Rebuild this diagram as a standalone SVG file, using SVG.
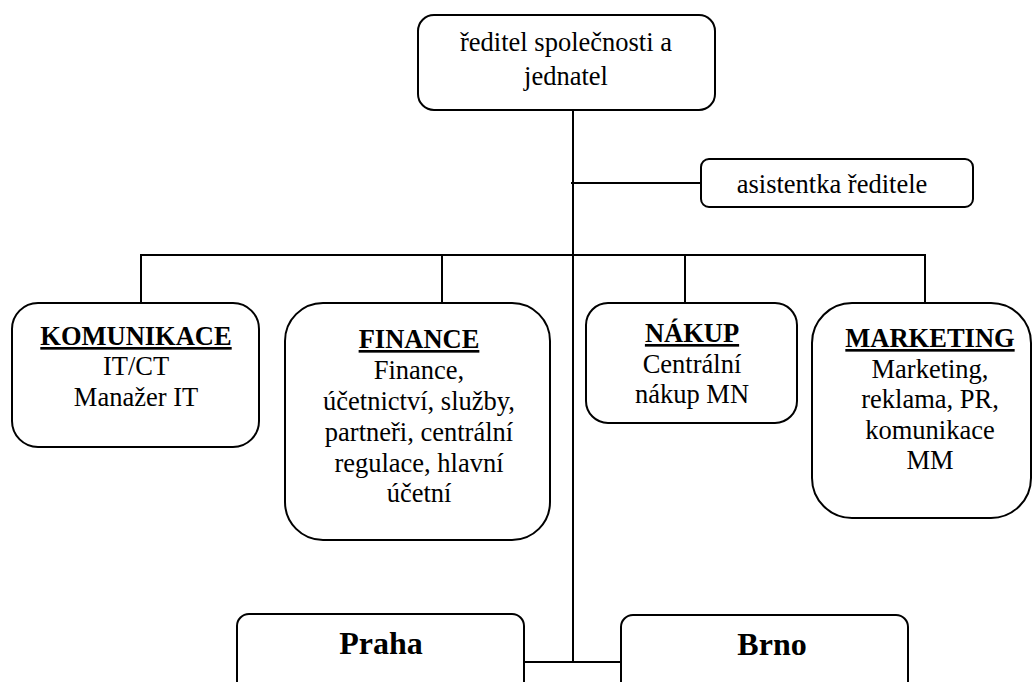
<svg xmlns="http://www.w3.org/2000/svg" width="1032" height="682" viewBox="0 0 1032 682">
<style>
.n rect{fill:#fff;stroke:#000;stroke-width:2}
.c line{stroke:#000;stroke-width:2}
text{font-family:"Liberation Serif","Times New Roman",serif;font-size:26.5px;fill:#000;text-anchor:middle}
.h{font-weight:bold;text-decoration:underline}
.b{font-weight:bold;font-size:32px}
</style>
<rect x="0" y="0" width="1032" height="682" fill="#fff"/>
<g class="c" id="connectors">
<line x1="573" y1="110" x2="573" y2="662"/>
<line x1="571" y1="183" x2="701" y2="183"/>
<line x1="140" y1="255" x2="926" y2="255"/>
<line x1="141" y1="255" x2="141" y2="303"/>
<line x1="442" y1="255" x2="442" y2="303"/>
<line x1="685" y1="255" x2="685" y2="303"/>
<line x1="925" y1="255" x2="925" y2="303"/>
<line x1="524" y1="662" x2="621" y2="662"/>
</g>
<g id="director" class="n">
<rect x="418" y="15" width="297" height="95" rx="16"/>
<text x="566" y="51">ředitel společnosti a</text>
<text x="566" y="85">jednatel</text>
</g>
<g id="assistant" class="n">
<rect x="701" y="159" width="272" height="48" rx="8"/>
<text x="832" y="193">asistentka ředitele</text>
</g>
<g id="komunikace" class="n">
<rect x="12" y="303" width="247" height="144" rx="26"/>
<text x="136" y="345" class="h">KOMUNIKACE</text>
<text x="136" y="375">IT/CT</text>
<text x="136" y="406">Manažer IT</text>
</g>
<g id="finance" class="n">
<rect x="285" y="303" width="265" height="237" rx="38"/>
<text x="419" y="348" class="h">FINANCE</text>
<text x="419" y="379">Finance,</text>
<text x="419" y="410">účetnictví, služby,</text>
<text x="419" y="441">partneři, centrální</text>
<text x="419" y="472">regulace, hlavní</text>
<text x="419" y="502">účetní</text>
</g>
<g id="nakup" class="n">
<rect x="586" y="303" width="211" height="120" rx="22"/>
<text x="692" y="342" class="h">NÁKUP</text>
<text x="692" y="373">Centrální</text>
<text x="692" y="403">nákup MN</text>
</g>
<g id="marketing" class="n">
<rect x="812" y="303" width="219" height="215" rx="40"/>
<text x="930" y="347" class="h">MARKETING</text>
<text x="930" y="378">Marketing,</text>
<text x="930" y="408">reklama, PR,</text>
<text x="930" y="439">komunikace</text>
<text x="930" y="469">MM</text>
</g>
<g id="praha" class="n">
<rect x="237" y="614" width="287" height="90" rx="12"/>
<text x="381" y="654" class="b">Praha</text>
</g>
<g id="brno" class="n">
<rect x="621" y="615" width="287" height="90" rx="12"/>
<text x="772" y="655" class="b">Brno</text>
</g>
</svg>
